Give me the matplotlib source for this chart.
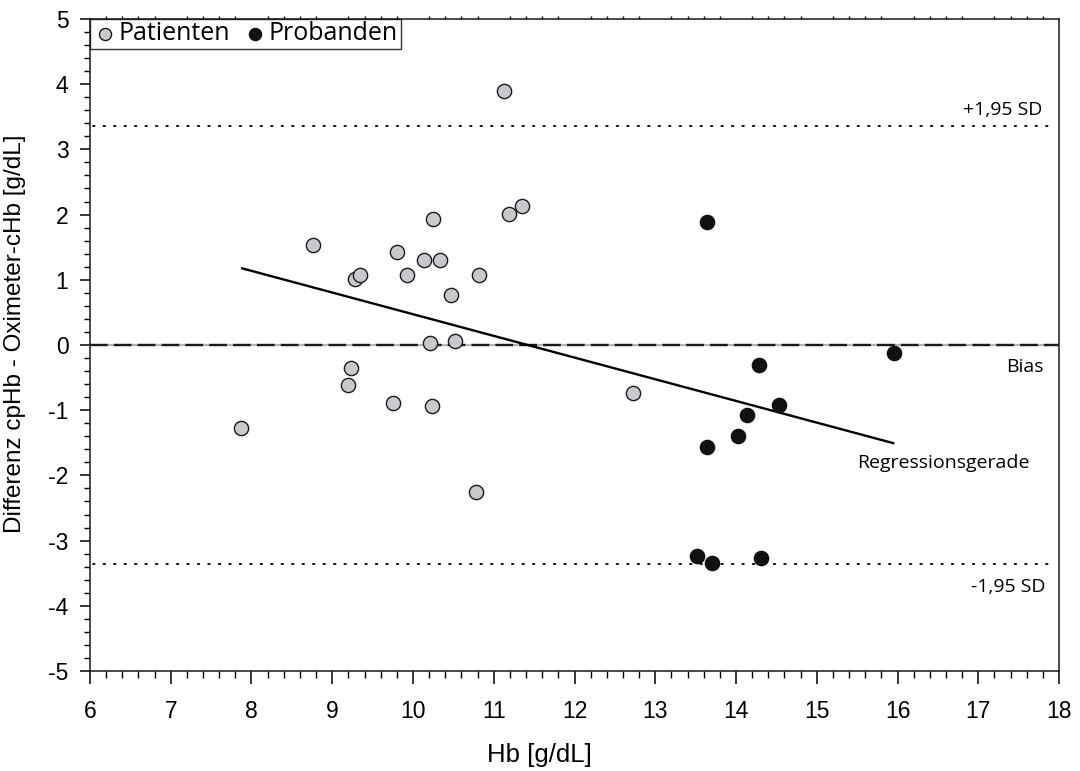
import matplotlib
matplotlib.use("Agg")
import matplotlib.pyplot as plt
from matplotlib.ticker import MultipleLocator
import numpy as np

# Patienten (grey markers)
pat_hb = [7.87, 8.76, 9.28, 9.34, 9.80, 9.93, 10.14, 10.25, 10.34, 10.47, 10.82,
          11.19, 11.35, 10.21, 10.52, 9.23, 9.19, 9.75, 10.23, 11.13, 10.78, 12.73]
pat_diff = [-1.27, 1.54, 1.01, 1.08, 1.43, 1.07, 1.30, 1.93, 1.31, 0.76, 1.07,
            2.01, 2.13, 0.03, 0.06, -0.35, -0.62, -0.89, -0.94, 3.89, -2.25, -0.74]

# Probanden (black markers)
prob_hb = [13.64, 15.96, 14.28, 14.53, 14.14, 14.02, 13.64, 13.52, 13.70, 14.31]
prob_diff = [1.88, -0.13, -0.30, -0.92, -1.07, -1.40, -1.57, -3.23, -3.35, -3.27]

# Bland-Altman reference values
bias = 0.0
upper_loa = 3.36
lower_loa = -3.36

# Regression line through all measurements
reg_slope = -0.3325
reg_intercept = 3.797

plt.rcParams["font.family"] = ["Liberation Sans", "DejaVu Sans"]

fig = plt.figure(figsize=(10.8, 7.71), dpi=100)
ax = fig.add_axes([0.0833, 0.1297, 0.8973, 0.8457])

ax.set_xlim(6, 18)
ax.set_ylim(-5, 5)

# Limits of agreement
ax.axhline(upper_loa, xmin=0.003, xmax=0.99, color="black", lw=1.3,
           ls=(0, (0.9, 4.9)), dash_capstyle="round", zorder=2)
ax.axhline(lower_loa, xmin=0.003, xmax=0.99, color="black", lw=1.3,
           ls=(0, (0.9, 4.9)), dash_capstyle="round", zorder=2)

# Bias: grey line with black dashes on top
ax.axhline(bias, color="#b4b4b4", lw=1.6, zorder=2)
ax.axhline(bias, color="#1a1a1a", lw=1.7, ls=(0, (7.5, 2.6)), zorder=2.1)

# Regression line over the measured Hb range
all_hb = np.array(pat_hb + prob_hb)
x_reg = np.array([all_hb.min(), all_hb.max()])
ax.plot(x_reg, reg_intercept + reg_slope * x_reg, color="black", lw=1.7,
        solid_capstyle="butt", zorder=3)

ax.scatter(pat_hb, pat_diff, s=105, facecolor="#c8c9cc", edgecolor="#1a1a1a",
           linewidths=1.0, zorder=4, label="Patienten")
ax.scatter(prob_hb, prob_diff, s=105, facecolor="#111111", edgecolor="#111111",
           linewidths=1.0, zorder=4, label="Probanden")

label_font = ["Open Sans", "DejaVu Sans"]
ax.text(17.79, 3.53, "+1,95 SD", ha="right", va="baseline", fontsize=14,
        family=label_font)
ax.text(17.81, -0.41, "Bias", ha="right", va="baseline", fontsize=14,
        family=label_font)
ax.text(17.63, -1.89, "Regressionsgerade", ha="right", va="baseline", fontsize=14,
        family=label_font)
ax.text(17.83, -3.79, "-1,95 SD", ha="right", va="baseline", fontsize=14,
        family=label_font)

# Axes, ticks
for s in ax.spines.values():
    s.set_linewidth(1.1)
    s.set_color("#1a1a1a")

ax.xaxis.set_major_locator(MultipleLocator(1))
ax.xaxis.set_minor_locator(MultipleLocator(0.2))
ax.yaxis.set_major_locator(MultipleLocator(1))
ax.yaxis.set_minor_locator(MultipleLocator(0.2))

ax.tick_params(axis="x", which="major", direction="out", length=9, width=1.1,
               labelsize=16.5, pad=12, top=False)
ax.tick_params(axis="x", which="minor", direction="out", length=5, width=1.0,
               top=True)
ax.tick_params(axis="y", which="major", direction="out", length=7.5, width=1.1,
               labelsize=16.5, pad=8)
ax.tick_params(axis="y", which="minor", direction="out", length=4, width=1.0)

ax.set_xticks(np.arange(6, 19, 1))
ax.set_xticklabels([str(v) for v in range(6, 19)])
ax.set_yticks(np.arange(-5, 6, 1))
ax.set_yticklabels([str(v) for v in range(-5, 6)])

# Short top minor ticks
for t in ax.xaxis.get_minor_ticks():
    t.tick2line.set_markersize(2)

ax.set_xlabel("Hb [g/dL]", fontsize=18.5)
ax.xaxis.set_label_coords(0.464, -0.110)
ax.set_ylabel("Differenz cpHb - Oximeter-cHb [g/dL]", fontsize=17.5)
ax.yaxis.set_label_coords(-0.066, 0.517)

leg = ax.legend(loc="upper left", bbox_to_anchor=(0, 1), borderaxespad=0,
                ncol=2, frameon=True, fancybox=False, edgecolor="black",
                prop={"family": label_font, "size": 18}, handletextpad=0.05,
                columnspacing=0.5, borderpad=0.1, handlelength=1.0,
                markerscale=0.85, scatterpoints=1)
leg.get_frame().set_linewidth(1.0)

fig.savefig("out.png", dpi=100)
